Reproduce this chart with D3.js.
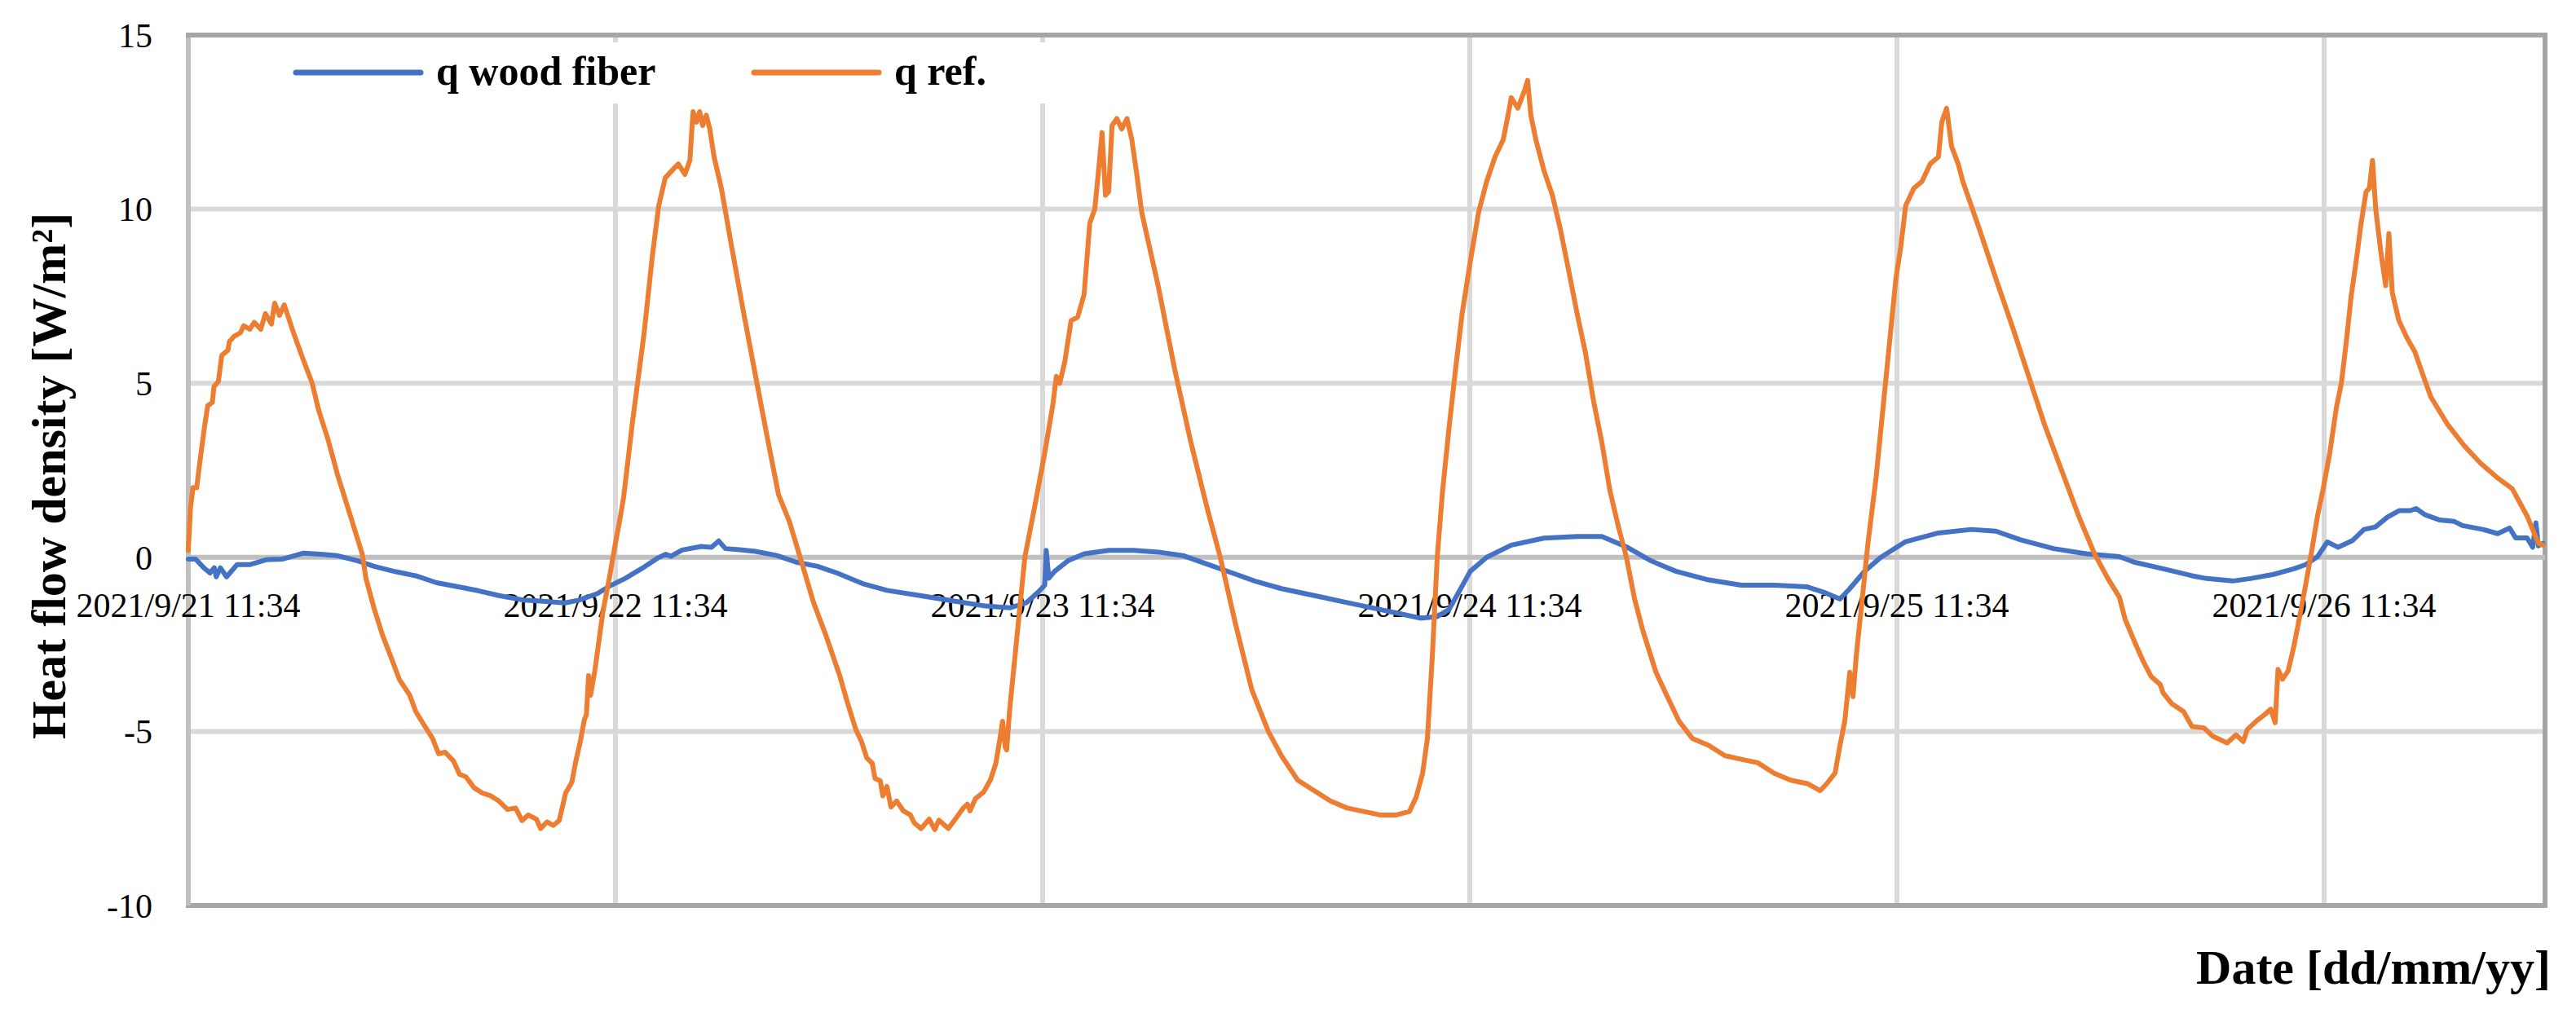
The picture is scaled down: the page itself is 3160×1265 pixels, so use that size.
<!DOCTYPE html>
<html>
<head>
<meta charset="utf-8">
<script src="https://cdn.jsdelivr.net/npm/d3@7"></script>
<style>
  body { margin: 0; background: #fff; }
  svg text { font-family: "Liberation Serif", "Times New Roman", serif; fill: #000; }
</style>
</head>
<body>
<div id="chart"></div>
<script>
// hours after 2021/9/21 11:34
const refHours = [0,0.12,0.26,0.47,0.64,0.91,1.09,1.35,1.44,1.69,1.88,2.23,2.31,2.58,2.93,3.11,3.45,3.71,4.07,4.33,4.67,4.85,5.12,5.39,5.91,6.44,6.96,7.31,7.84,8.37,9.07,9.77,9.98,10.44,10.92,11.39,11.85,12.44,12.78,13.25,13.72,14.06,14.43,14.89,15.24,15.59,16.06,16.52,16.99,17.45,17.93,18.39,18.75,19.1,19.56,19.79,20.15,20.5,20.84,21.2,21.55,21.78,22.02,22.25,22.37,22.49,22.6,22.84,23.07,23.3,23.65,23.86,24.0,24.23,24.46,24.96,25.6,26.06,26.43,26.8,27.16,27.53,27.9,28.18,28.36,28.55,28.73,28.9,29.1,29.3,29.54,29.95,30.5,31.1,31.8,32.47,33.16,33.77,34.46,35.13,35.83,36.6,37.05,37.5,37.82,38.12,38.43,38.58,38.88,39.02,39.25,39.48,39.8,40.17,40.57,40.79,41.17,41.63,41.94,42.17,42.7,43.16,43.54,43.77,43.92,44.23,44.69,45.07,45.37,45.6,45.75,45.9,45.98,46.14,46.29,47.0,47.57,48.12,48.58,48.77,48.96,49.24,49.6,49.97,50.33,50.65,50.93,51.16,51.34,51.53,51.71,51.9,52.17,52.44,52.74,53.01,53.29,53.57,54.49,55.42,56.33,57.25,57.98,58.83,59.75,60.68,61.42,62.33,63.25,64.17,65.1,66.03,66.96,67.88,68.61,68.98,69.35,69.62,69.9,70.17,70.47,70.83,71.2,71.57,72.03,72.49,72.95,73.42,73.88,74.15,74.33,74.7,75.07,75.25,75.43,75.71,76.17,76.64,77.1,77.57,78.03,78.49,78.95,79.42,79.88,80.34,80.8,81.26,81.72,82.46,83.1,83.75,84.5,85.42,86.34,87.26,88.18,89.1,90.03,90.96,91.69,92.06,92.52,92.8,93.07,93.35,93.53,93.72,94.09,94.37,94.83,95.2,95.57,95.94,96.21,96.49,96.95,97.41,97.87,98.33,98.52,98.79,99.07,99.44,99.7,100.65,101.56,102.5,103.4,104.3,105.25,106.2,107.1,107.84,108.5,108.82,109.33,109.8,110.28,110.79,110.95,111.43,112.1,112.58,113.25,113.72,114.55,115.05,115.46,115.69,116.2,116.68,117.0,117.25,117.41,117.66,117.98,118.3,118.63,118.97,119.3,119.63,119.95,120.32,120.69,120.97,121.25,121.52,121.8,122.08,122.36,122.54,122.72,122.9,123.18,123.46,123.64,123.83,124.2,124.66,125.1,125.58,126.0,126.96,127.88,128.8,129.7,130.57,131.4,132.04,132.3];
const refValues = [0.2,1.4,2.0,2.0,2.7,3.75,4.35,4.45,4.9,5.05,5.8,5.95,6.2,6.35,6.45,6.65,6.55,6.75,6.55,7.0,6.7,7.3,6.95,7.25,6.45,5.7,5.0,4.25,3.4,2.4,1.25,0.1,-0.6,-1.47,-2.25,-2.87,-3.5,-3.96,-4.43,-4.82,-5.2,-5.64,-5.6,-5.84,-6.23,-6.3,-6.62,-6.77,-6.85,-7.0,-7.24,-7.2,-7.56,-7.4,-7.52,-7.79,-7.6,-7.7,-7.56,-6.77,-6.46,-5.84,-5.3,-4.67,-4.51,-3.4,-3.96,-3.26,-2.4,-1.55,-0.61,0.0,0.41,1.03,1.73,3.9,6.4,8.6,10.1,10.9,11.1,11.3,11.0,11.4,12.8,12.5,12.8,12.4,12.7,12.3,11.5,10.6,9.0,7.3,5.4,3.6,1.8,1.03,-0.14,-1.3,-2.25,-3.4,-4.2,-4.94,-5.29,-5.76,-5.92,-6.35,-6.42,-6.85,-6.58,-7.17,-7.0,-7.28,-7.4,-7.63,-7.79,-7.52,-7.82,-7.55,-7.79,-7.47,-7.2,-7.09,-7.28,-6.93,-6.74,-6.39,-5.92,-5.22,-4.71,-5.45,-5.53,-4.43,-3.65,0.0,1.5,3.0,4.4,5.2,5.0,5.6,6.8,6.9,7.55,9.6,10.0,11.2,12.2,10.4,10.5,12.4,12.6,12.3,12.6,12.0,11.0,9.9,7.8,5.4,3.3,1.4,0.0,-1.9,-3.8,-5.0,-5.7,-6.4,-6.7,-7.0,-7.2,-7.3,-7.4,-7.4,-7.3,-6.9,-6.2,-5.2,-2.8,0.0,1.9,3.7,5.4,7.0,8.5,9.9,10.8,11.5,12.0,12.7,13.2,12.9,13.4,13.7,12.7,12.0,11.1,10.4,9.4,8.2,7.0,5.9,4.5,3.3,1.9,0.9,0.0,-1.2,-2.1,-3.3,-4.0,-4.7,-5.2,-5.4,-5.7,-5.8,-5.9,-6.2,-6.4,-6.5,-6.7,-6.5,-6.2,-5.4,-4.7,-3.3,-4.0,-2.8,-1.0,0.4,2.3,4.2,6.1,8.0,8.9,10.1,10.6,10.8,11.3,11.5,12.5,12.9,11.8,11.3,10.8,9.4,8.0,6.6,5.2,3.8,2.5,1.2,0.1,-0.6,-1.15,-1.78,-2.4,-2.95,-3.42,-3.65,-3.89,-4.2,-4.43,-4.86,-4.9,-5.13,-5.33,-5.1,-5.29,-4.94,-4.7,-4.51,-4.36,-4.75,-3.22,-3.5,-3.26,-2.56,-1.7,-0.77,0.17,1.19,1.97,3.0,4.3,5.0,6.2,7.5,8.5,9.6,10.5,10.6,11.4,10.0,8.8,7.8,9.3,7.6,6.8,6.3,5.9,5.2,4.6,3.8,3.2,2.7,2.3,1.97,1.19,0.4,0.35];

const woodHours = [0,0.41,0.87,1.22,1.46,1.57,1.8,2.15,2.74,3.44,4.37,5.31,6.48,7.42,8.34,9.52,10.44,11.62,12.78,13.95,15.11,16.29,17.45,18.87,20.1,21.16,21.94,22.99,23.62,24.53,25.45,26.37,26.83,27.11,27.74,28.81,29.4,29.8,30.18,31.1,31.86,33.07,34.15,35.36,36.44,37.97,39.26,41.11,42.95,44.8,46.18,47.1,47.75,48.12,48.2,48.35,48.68,49.42,50.34,51.73,53.11,54.5,55.88,57.27,58.65,60.03,61.42,63.27,65.11,66.96,68.34,69.26,70.18,70.83,71.38,72.03,72.95,74.33,76.17,78.03,79.42,80.8,82.18,83.57,85.42,87.26,89.1,90.96,91.88,92.8,93.35,94.18,95.1,96.49,98.33,100.18,101.56,102.95,104.8,106.65,108.5,109.33,110.96,112.58,113.4,114.87,115.86,117.16,118.3,118.97,119.63,120.18,120.78,121.59,122.24,122.88,123.55,124.21,124.85,125.17,125.68,126.5,127.32,127.78,128.93,129.75,130.42,130.76,131.4,131.72,131.9,132.04,132.3];
const woodValues = [-0.05,-0.05,-0.3,-0.45,-0.3,-0.56,-0.3,-0.56,-0.21,-0.21,-0.07,-0.05,0.12,0.09,0.05,-0.1,-0.26,-0.41,-0.53,-0.73,-0.84,-0.96,-1.1,-1.23,-1.27,-1.31,-1.23,-1.04,-0.84,-0.61,-0.33,-0.02,0.09,0.03,0.21,0.31,0.29,0.47,0.25,0.21,0.17,0.05,-0.14,-0.26,-0.45,-0.77,-0.95,-1.1,-1.25,-1.4,-1.45,-1.3,-1.0,-0.8,0.2,-0.6,-0.4,-0.1,0.1,0.2,0.2,0.15,0.05,-0.2,-0.45,-0.7,-0.9,-1.1,-1.3,-1.5,-1.65,-1.75,-1.7,-1.5,-1.0,-0.4,0.0,0.35,0.55,0.6,0.6,0.3,-0.1,-0.4,-0.65,-0.8,-0.8,-0.85,-1.0,-1.2,-0.9,-0.4,0.0,0.45,0.7,0.8,0.75,0.5,0.25,0.1,0.02,-0.14,-0.33,-0.53,-0.61,-0.68,-0.61,-0.49,-0.33,-0.21,0.02,0.44,0.29,0.48,0.8,0.87,1.15,1.34,1.34,1.4,1.22,1.07,1.03,0.91,0.8,0.68,0.84,0.56,0.56,0.29,0.99,0.33,0.4];

const seriesNames = ["q wood fiber", "q ref."];
const seriesColors = ["#4472c4", "#ed7d31"];
const yTicks = [15, 10, 5, 0, -5, -10];

const width = 3160, height = 1265;
const margin = { left: 231, right: 3122, top: 43, bottom: 1111 };

const start = new Date(2021, 8, 21, 11, 34);
const toDate = h => new Date(start.getTime() + h * 3600 * 1000);
const dayTicks = d3.range(0, 6).map(d => toDate(d * 24));

const x = d3.scaleTime()
    .domain([start, toDate(24 * (margin.right - margin.left) / 524)])
    .range([margin.left, margin.right]);
const y = d3.scaleLinear().domain([-10, 15]).range([margin.bottom, margin.top]);

const svg = d3.select('#chart').append('svg')
    .attr('width', width)
    .attr('height', height);

svg.append('rect').attr('width', width).attr('height', height).attr('fill', '#fff');

// gridlines
svg.append('g').selectAll('line')
    .data(yTicks.filter(v => v !== 0 && v !== 15 && v !== -10))
    .join('line')
    .attr('x1', margin.left).attr('x2', margin.right)
    .attr('y1', d => y(d)).attr('y2', d => y(d))
    .attr('stroke', '#d9d9d9').attr('stroke-width', 6);

svg.append('g').selectAll('line')
    .data(dayTicks.slice(1))
    .join('line')
    .attr('x1', d => x(d)).attr('x2', d => x(d))
    .attr('y1', margin.top).attr('y2', margin.bottom)
    .attr('stroke', '#d9d9d9').attr('stroke-width', 6);

// frame
svg.append('rect')
    .attr('x', margin.left).attr('y', margin.top)
    .attr('width', margin.right - margin.left)
    .attr('height', margin.bottom - margin.top)
    .attr('fill', 'none')
    .attr('stroke', '#a6a6a6').attr('stroke-width', 6);
svg.append('line')
    .attr('x1', margin.left).attr('x2', margin.left)
    .attr('y1', margin.top + 3).attr('y2', margin.bottom)
    .attr('stroke', '#bfbfbf').attr('stroke-width', 6);

// zero axis line
svg.append('line')
    .attr('x1', margin.left).attr('x2', margin.right)
    .attr('y1', y(0)).attr('y2', y(0))
    .attr('stroke', '#bfbfbf').attr('stroke-width', 6);

// y tick labels
svg.append('g').selectAll('text')
    .data(yTicks)
    .join('text')
    .attr('x', 187)
    .attr('y', d => y(d))
    .attr('dy', '0.35em')
    .attr('text-anchor', 'end')
    .style('font-size', '42px')
    .text(d => d);

// x tick labels, sitting under the zero line
const fmt = d3.timeFormat('%Y/%-m/%-d %H:%M');
svg.append('g').selectAll('text')
    .data(dayTicks)
    .join('text')
    .attr('x', d => x(d))
    .attr('y', 757)
    .attr('text-anchor', 'middle')
    .style('font-size', '42px')
    .text(d => fmt(d));

// series
const line = d3.line()
    .x(d => x(d[0]))
    .y(d => y(d[1]));

const wood = woodHours.map((h, i) => [toDate(h), woodValues[i]]);
const ref = refHours.map((h, i) => [toDate(h), refValues[i]]);

[wood, ref].forEach((data, i) => {
    svg.append('path')
        .datum(data)
        .attr('d', line)
        .attr('fill', 'none')
        .attr('stroke', seriesColors[i])
        .attr('stroke-width', 6)
        .attr('stroke-linejoin', 'round')
        .attr('stroke-linecap', 'round');
});

// legend
const legend = svg.append('g');
legend.append('rect')
    .attr('x', 340).attr('y', 52)
    .attr('width', 960).attr('height', 75)
    .attr('fill', '#fff');
const legendX = [363, 925];
seriesNames.forEach((name, i) => {
    legend.append('line')
        .attr('x1', legendX[i]).attr('x2', legendX[i] + 153)
        .attr('y1', 89).attr('y2', 89)
        .attr('stroke', seriesColors[i])
        .attr('stroke-width', 7)
        .attr('stroke-linecap', 'round');
    legend.append('text')
        .attr('x', legendX[i] + 172)
        .attr('y', 104)
        .style('font-size', '50px')
        .style('font-weight', 'bold')
        .text(name);
});

// axis titles
svg.append('text')
    .attr('transform', 'translate(80,584) rotate(-90)')
    .attr('text-anchor', 'middle')
    .style('font-size', '60px')
    .style('font-weight', 'bold')
    .text('Heat flow density [W/m²]');

svg.append('text')
    .attr('x', 3129)
    .attr('y', 1207)
    .attr('text-anchor', 'end')
    .style('font-size', '60px')
    .style('font-weight', 'bold')
    .text('Date [dd/mm/yy]');
</script>
</body>
</html>
